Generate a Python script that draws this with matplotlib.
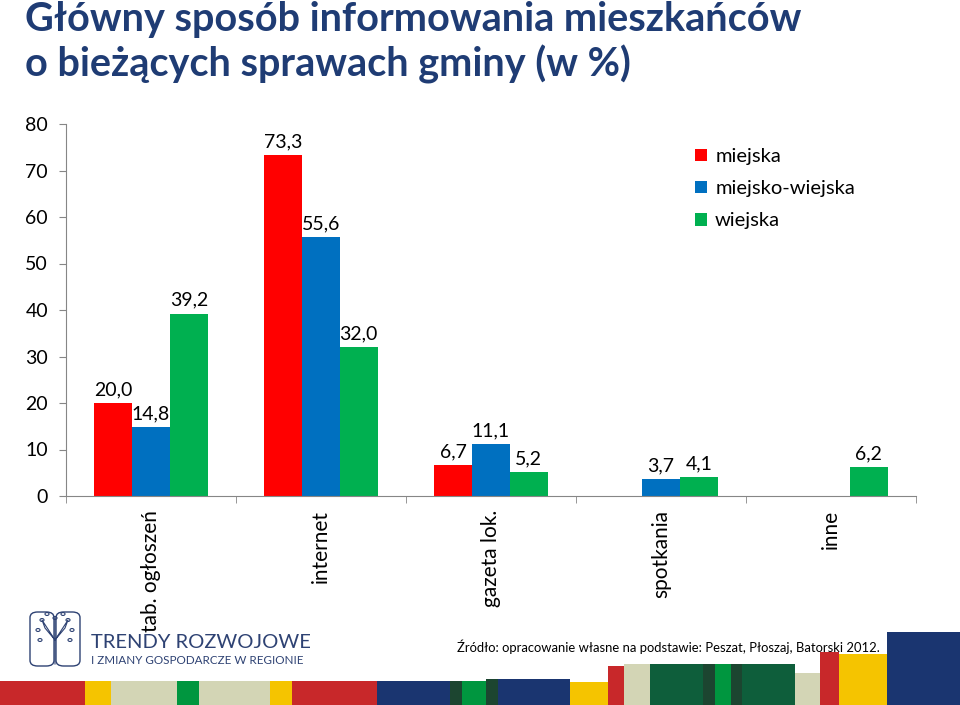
import numpy as np
import matplotlib
matplotlib.use("Agg")
import matplotlib.pyplot as plt
from matplotlib.patches import Rectangle, FancyBboxPatch, Circle
from matplotlib.lines import Line2D

# data
categories = ["tab. ogłoszeń", "internet", "gazeta lok.", "spotkania", "inne"]
series_names = ["miejska", "miejsko-wiejska", "wiejska"]
miejska = [20.0, 73.3, 6.7, np.nan, np.nan]
miejsko_wiejska = [14.8, 55.6, 11.1, 3.7, np.nan]
wiejska = [39.2, 32.0, 5.2, 4.1, 6.2]
series_colors = ["#FF0000", "#0070C0", "#00B050"]
y_ticks = [0, 10, 20, 30, 40, 50, 60, 70, 80]

title_lines = ["Główny sposób informowania mieszkańców", "o bieżących sprawach gminy (w %)"]
source_text = "Źródło: opracowanie własne na podstawie: Peszat, Płoszaj, Batorski 2012."

# decorative stripe at bottom: (x0, x1, top) in pixels, colour
stripe_red, stripe_yel, stripe_bei = "#C8282A", "#F5C400", "#D3D5B5"
stripe_grn, stripe_nav, stripe_dkg, stripe_drk = "#00963F", "#1A3570", "#0E5E3B", "#1C4530"
stripes = [
    (0, 85, 681, stripe_red), (85, 111, 681, stripe_yel), (111, 177, 681, stripe_bei),
    (177, 199, 681, stripe_grn), (199, 270, 681, stripe_bei), (270, 292, 681, stripe_yel),
    (292, 377, 681, stripe_red), (377, 450, 681, stripe_nav), (450, 462, 681, stripe_drk),
    (462, 486, 681, stripe_grn), (486, 498, 679, stripe_drk), (498, 570, 679, stripe_nav),
    (570, 608, 682, stripe_yel), (608, 624, 666, stripe_red), (624, 650, 664, stripe_bei),
    (650, 703, 664, stripe_dkg), (703, 715, 664, stripe_drk), (715, 731, 664, stripe_grn),
    (731, 742, 664, stripe_drk), (742, 795, 664, stripe_dkg), (795, 820, 673, stripe_bei),
    (820, 839, 652, stripe_red), (839, 887, 654, stripe_yel), (887, 960, 632, stripe_nav),
]

plt.rcParams["font.family"] = ["Lato", "DejaVu Sans"]

W, H = 960, 705
fig = plt.figure(figsize=(W / 100, H / 100), dpi=100)
ax = fig.add_axes([66 / W, 1 - 496 / H, 850 / W, 372 / H])

x = np.arange(len(categories))
bw = 1 / 4.5
all_series = [miejska, miejsko_wiejska, wiejska]
handles = []
for i, (vals, name, col) in enumerate(zip(all_series, series_names, series_colors)):
    vals = np.array(vals, dtype=float)
    bars = ax.bar(x + (i - 1) * bw, np.nan_to_num(vals), bw, color=col, label=name)
    handles.append(bars)
    for xi, v in zip(x, vals):
        if np.isnan(v):
            continue
        ax.annotate(f"{v:.1f}".replace(".", ","), (xi + (i - 1) * bw, v),
                    xytext=(0, 3.5), textcoords="offset points",
                    ha="center", va="bottom", fontsize=14)

ax.set_xlim(-0.5, len(categories) - 0.5)
ax.set_ylim(0, 80)
ax.set_yticks(y_ticks)
ax.set_xticks(x)
ax.set_xticklabels(categories, rotation=90, va="top", ha="center")
ax.set_xticks(np.arange(-0.5, len(categories)), minor=True)
ax.tick_params(axis="x", which="major", length=0, pad=10, labelsize=15)
ax.tick_params(axis="x", which="minor", length=5, color="#868686")
ax.tick_params(axis="y", length=5, color="#868686", labelsize=14, pad=8)
for s in ["top", "right"]:
    ax.spines[s].set_visible(False)
for s in ["left", "bottom"]:
    ax.spines[s].set_color("#868686")

ax.legend(handles=handles, loc="upper left", bbox_to_anchor=(695 / W, 1 - 148 / H),
          bbox_transform=fig.transFigure, frameon=False, fontsize=14.5,
          handlelength=0.6, handleheight=0.6, handletextpad=0.4, labelspacing=0.75,
          borderpad=0, borderaxespad=0)

# title
title_color = "#1F3C74"
fig.text(25 / W, 1 - 31 / H, title_lines[0], fontsize=28.5, fontweight="bold",
         color=title_color, va="baseline", ha="left")
fig.text(25 / W, 1 - 77 / H, title_lines[1], fontsize=28.5, fontweight="bold",
         color=title_color, va="baseline", ha="left")

# bottom stripes
for x0, x1, top, col in stripes:
    fig.add_artist(Rectangle((x0 / W, 0), (x1 - x0) / W, (H - top) / H,
                             transform=fig.transFigure, color=col, lw=0))

# source
fig.text(457 / W, 1 - 652 / H, source_text, fontsize=9.4, va="baseline", ha="left")

# logo
logo_color = "#2E4273"
fig.text(91 / W, 1 - 648 / H, "TRENDY ROZWOJOWE", fontsize=14.5,
         color=logo_color, va="baseline", ha="left")
fig.text(91 / W, 1 - 664 / H, "I ZMIANY GOSPODARCZE W REGIONIE", fontsize=8.4,
         color=logo_color, va="baseline", ha="left")
for lx in (30, 56):
    fig.add_artist(FancyBboxPatch((lx / W, 1 - 666 / H), 24 / W, 54 / H,
                                  boxstyle="round,pad=0,rounding_size=0.008",
                                  transform=fig.transFigure, fill=False,
                                  ec=logo_color, lw=1))
trunk = [(55, 664), (55, 640), (45, 628), (42, 620), (55, 640), (65, 628), (68, 620),
         (55, 640), (55, 618)]
fig.add_artist(Line2D([p[0] / W for p in trunk], [1 - p[1] / H for p in trunk],
                      transform=fig.transFigure, color=logo_color, lw=0.8))
for cx, cy in [(42, 620), (68, 620), (55, 618), (38, 630), (72, 630), (47, 614), (63, 614),
               (40, 640), (70, 640)]:
    fig.add_artist(Circle((cx / W, 1 - cy / H), 2 / W, transform=fig.transFigure,
                          fill=False, ec=logo_color, lw=0.8))

fig.savefig("out.png", dpi=100)
